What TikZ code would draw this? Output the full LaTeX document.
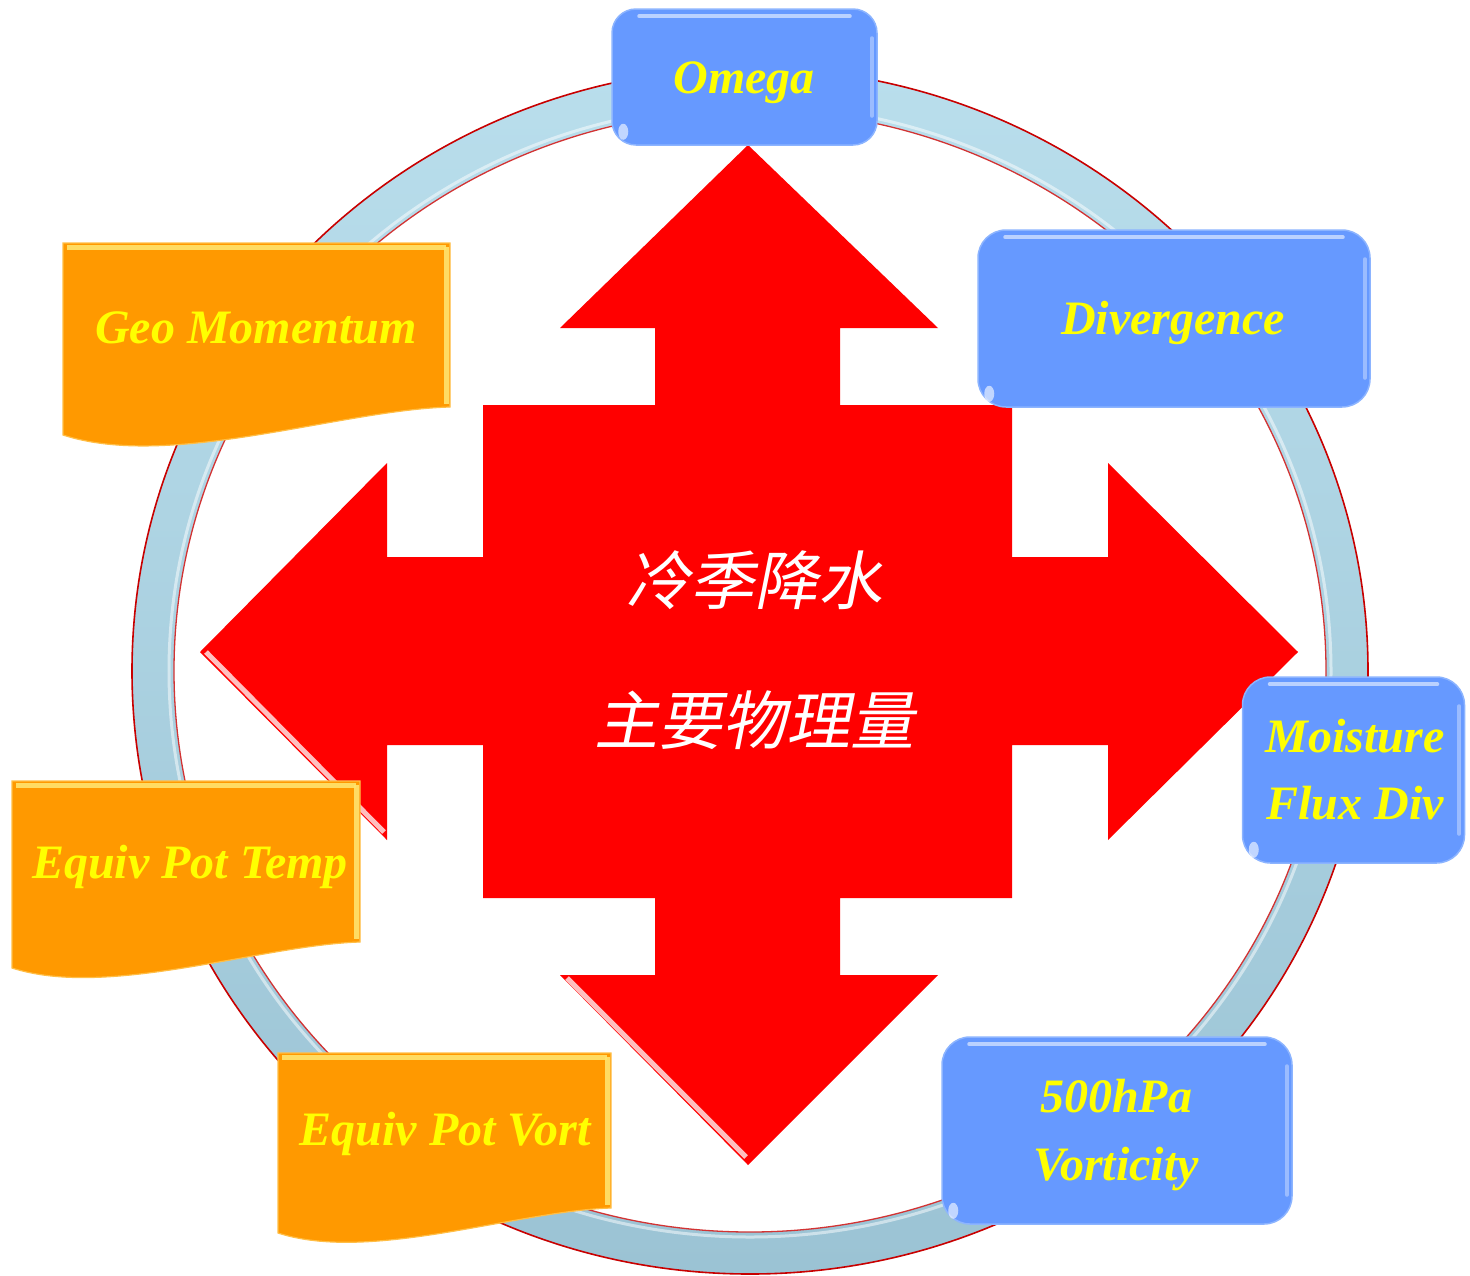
\documentclass[tikz,border=0pt]{standalone}
\usepackage{fontspec}
\setmainfont{Liberation Serif}
\newfontfamily\cjkfont[FakeSlant=0.2]{Noto Sans CJK SC}
\definecolor{boxblue}{RGB}{102,153,255}
\definecolor{boxedge}{RGB}{140,180,255}
\definecolor{orangefill}{RGB}{255,153,0}
\definecolor{orangeedge}{RGB}{255,190,70}
\definecolor{bevel}{RGB}{255,228,110}
\definecolor{ringtop}{RGB}{185,222,236}
\definecolor{ringbot}{RGB}{155,195,212}
\definecolor{ringred}{RGB}{200,0,0}
\definecolor{labelyellow}{RGB}{255,255,0}
\definecolor{arrowred}{RGB}{255,0,0}
\begin{document}
\begin{tikzpicture}[x=1pt,y=-1pt,
  bluebox/.style={draw=boxedge, line width=1.5pt, fill=boxblue, rounded corners=24pt, inner sep=0pt},
  orangebox/.style={fill=orangefill, draw=orangeedge, line width=1.2pt},
  lbl/.style={text=labelyellow, font=\fontsize{48}{68}\selectfont\bfseries\itshape, inner sep=0pt, anchor=base},
  cjk/.style={text=white, font=\cjkfont\fontsize{64}{64}\selectfont, inner sep=0pt},
  shine/.style={white, opacity=0.55, line width=4pt, line cap=round},
  glint/.style={white, opacity=0.6},
  bevelline/.style={bevel, line width=5pt, opacity=0.9}
]
\useasboundingbox (0,0) rectangle (1470,1275);

% ring
\shade[top color=ringtop, bottom color=ringbot, even odd rule]
  (750,671) ellipse [x radius=618pt, y radius=603pt]
  (750,671) ellipse [x radius=576pt, y radius=561pt];
\draw[white, opacity=0.5, line width=3pt] (750,671) ellipse [x radius=581pt, y radius=566pt];
\draw[ringred, line width=1.6pt] (750,671) ellipse [x radius=618pt, y radius=603pt];
\draw[ringred!80, line width=1.3pt] (750,671) ellipse [x radius=576pt, y radius=561pt];

% central four-way arrow
\fill[arrowred] (748,145) -- (938,328) -- (840,328) -- (840,405) -- (1012,405) -- (1012,557)
  -- (1108,557) -- (1108,463) -- (1298,652) -- (1108,840) -- (1108,745) -- (1012,745)
  -- (1012,898) -- (840,898) -- (840,975) -- (938,975) -- (748,1165) -- (560,975)
  -- (655,975) -- (655,898) -- (483,898) -- (483,745) -- (387,745) -- (387,840)
  -- (200,652) -- (387,463) -- (387,557) -- (483,557) -- (483,405) -- (655,405)
  -- (655,328) -- (560,328) -- cycle;
\draw[white, opacity=0.75, line width=5pt] (206,652) -- (384,832);
\draw[white, opacity=0.75, line width=5pt] (567,978) -- (746,1157);
\draw[white, opacity=0.35, line width=2pt] (390,470) -- (390,557);
\draw[white, opacity=0.35, line width=2pt] (843,330) -- (843,405);

\node[cjk] (t1) at (754,580) {冷季降水};
\node[cjk] (t2) at (754,720) {主要物理量};

% blue rounded boxes
\node[bluebox, minimum width=265pt, minimum height=136pt] (omegabox) at (744.5,77) {};
\node[bluebox, rounded corners=28pt, minimum width=392pt, minimum height=177pt] (divbox) at (1174,318.5) {};
\node[bluebox, rounded corners=28pt, minimum width=222pt, minimum height=186pt] (moistbox) at (1353.5,770) {};
\node[bluebox, rounded corners=28pt, minimum width=350pt, minimum height=187pt] (vortbox) at (1117,1130.5) {};

\foreach \b in {omegabox,divbox,moistbox,vortbox}{
  \draw[shine] ([xshift=28pt,yshift=-8pt]\b.north west) -- ([xshift=-28pt,yshift=-8pt]\b.north east);
  \draw[shine, opacity=0.35] ([xshift=-6pt,yshift=-30pt]\b.north east) -- ([xshift=-6pt,yshift=30pt]\b.south east);
  \fill[glint] ([xshift=12pt,yshift=14pt]\b.south west) ellipse [x radius=5pt, y radius=8pt];
}

\node[lbl] (omega) at (744,93) {Omega};
\node[lbl] (div) at (1173,334) {Divergence};
\node[lbl] (moist1) at (1355,752) {Moisture};
\node[lbl] (moist2) at (1355,819) {Flux Div};
\node[lbl] (vort1) at (1116,1112) {500hPa};
\node[lbl] (vort2) at (1116,1180) {Vorticity};

% orange document shapes
\draw[orangebox] (63,243) -- (450,243) -- (450,407) .. controls (340,410) and (170,470) .. (63,435) -- cycle;
\draw[bevelline] (67,247) -- (446,247);
\draw[bevelline] (446,247) -- (446,404);

\draw[orangebox] (12,781) -- (360,781) -- (360,942) .. controls (261,945) and (108,999) .. (12,968) -- cycle;
\draw[bevelline] (16,785) -- (356,785);
\draw[bevelline] (356,785) -- (356,939);

\draw[orangebox] (278,1053) -- (611,1053) -- (611,1208) .. controls (516,1211) and (370,1263) .. (278,1233) -- cycle;
\draw[bevelline] (282,1057) -- (607,1057);
\draw[bevelline] (607,1057) -- (607,1205);

\node[lbl] (geo) at (256,343) {Geo Momentum};
\node[lbl] (ept) at (190,878) {Equiv Pot Temp};
\node[lbl] (epv) at (445,1145) {Equiv Pot Vort};
\end{tikzpicture}
\end{document}
